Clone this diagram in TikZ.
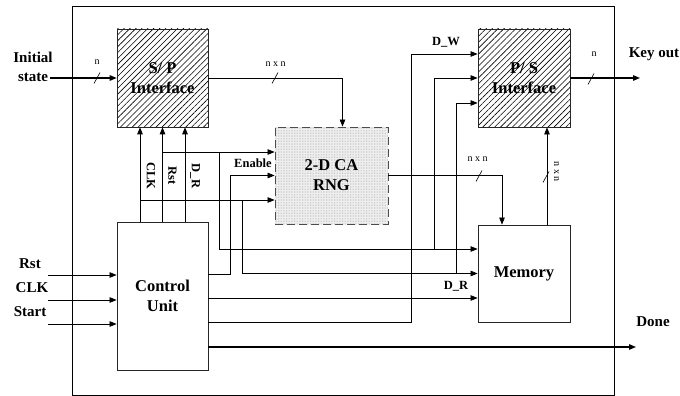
\documentclass[tikz,border=0pt]{standalone}
\usepackage{fontspec}
\setmainfont{Liberation Serif}
\usepackage{tikz}
\usetikzlibrary{arrows.meta,positioning,calc,patterns.meta}

\newcommand{\busslash}[1]{\draw[line width=0.6pt] ($(#1)+(-3,5.5)$) -- ($(#1)+(3,-5.5)$);}

\begin{document}
\begin{tikzpicture}[
  x=1pt, y=-1pt,
  block/.style={rectangle, draw=black!85, line width=0.8pt, align=center, inner sep=0pt, font=\fontsize{16.5}{20}\selectfont\bfseries},
  hatched/.style={block, pattern={Lines[angle=45,distance=4.2pt,line width=0.6pt]}},
  rngbox/.style={block, draw=black!70, dash pattern=on 8pt off 4pt, preaction={fill=gray!10}, pattern={Dots[distance=1.6pt,radius=0.35pt]}, pattern color=gray!70},
  arrow/.style={-{Triangle[length=7pt,width=5.5pt]}, line width=0.7pt},
  heavy/.style={arrow, line width=1.2pt},
  lbl/.style={inner sep=0pt, align=center, font=\fontsize{15}{19}\selectfont\bfseries},
  sig/.style={inner sep=0pt, font=\fontsize{12.5}{15}\selectfont\bfseries},
  bus/.style={inner sep=0pt, font=\fontsize{10}{12}\selectfont}
]
  \useasboundingbox (0,0) rectangle (680,396);
  \node[draw, line width=0.7pt, minimum width=542, minimum height=389, inner sep=0pt] (chip) at (343,200.5) {};

  % blocks
  \node[hatched, minimum width=91, minimum height=98] (sp) at (162.5,78) {S/ P\\Interface};
  \node[hatched, minimum width=92, minimum height=98] (ps) at (524,78) {P/ S\\Interface};
  \node[rngbox, minimum width=113, minimum height=97] (rng) at (331.5,175.5) {2-D CA\\RNG};
  \node[block, minimum width=91, minimum height=148] (cu) at (162.5,296) {Control\\Unit};
  \node[block, minimum width=92, minimum height=97] (mem) at (524,273.5) {Memory};

  % outer inputs and outputs
  \coordinate (instate) at (50,78);
  \coordinate (keyend) at (640,78);
  \coordinate (inrst) at (48,275);
  \coordinate (inclk) at (48,300);
  \coordinate (instart) at (48,324);
  \coordinate (doneend) at (636,347);

  \draw[heavy] (instate) -- (sp.west);
  \draw[heavy] (ps.east) -- (keyend);
  \draw[arrow] (inrst) -- (inrst -| cu.west);
  \draw[arrow] (inclk) -- (inclk -| cu.west);
  \draw[arrow] (instart) -- (instart -| cu.west);
  \draw[heavy] (cu.east |- doneend) -- (doneend);

  \node[lbl] (lblstate) at (33,67) {Initial\\state};
  \node[lbl] (lblkey) at (654,54) {Key out};
  \node[lbl] (lblrst) at (30,264) {Rst};
  \node[lbl] (lblclk) at (32,288) {CLK};
  \node[lbl] (lblstart) at (30,312) {Start};
  \node[lbl] (lbldone) at (653,322) {Done};

  % data paths
  \draw[arrow] (sp.east) -| ([xshift=11pt]rng.north);
  \draw[arrow] (rng.east) -| ([xshift=-22pt]mem.north);
  \draw[arrow] ([xshift=23pt]mem.north) -- ([xshift=23pt]ps.south);

  \busslash{97,78}
  \busslash{275,78}
  \busslash{479,176}
  \busslash{546,177}
  \busslash{591,79}
  \node[bus] (bw1) at (97,62.5) {n};
  \node[bus] (bw2) at (275.5,64) {n x n};
  \node[bus] (bw3) at (477.5,159) {n x n};
  \node[bus, rotate=-90] (bw4) at (556.5,171.5) {n x n};
  \node[bus] (bw5) at (594,54.5) {n};

  % control lines
  \draw[arrow] ([xshift=-22.5pt]cu.north) -- ([xshift=-22.5pt]sp.south);
  \draw[arrow] (cu.north) -- (sp.south);
  \draw[arrow] ([xshift=22.5pt]cu.north) -- ([xshift=22.5pt]sp.south);

  \coordinate (clkb) at (140,200);
  \coordinate (clkm) at (242,200);
  \coordinate (rstb) at (162,152);
  \coordinate (rstm) at (219,152);
  \coordinate (enb) at (230,274);
  \coordinate (dw) at (411,322);
  \coordinate (psb) at (434,249);
  \coordinate (psc) at (456,274);

  \draw[arrow] (clkb) -- (clkb -| rng.west);
  \draw[arrow] (clkm) |- (mem.west);
  \draw[arrow] (rstb) -- (rstb -| rng.west);
  \draw[arrow] (rstm) |- ([yshift=24.5pt]mem.west);
  \draw[arrow] (cu.east |- enb) -- (enb) |- (rng.west);
  \draw[arrow] ([yshift=-24.5pt]mem.west -| cu.east) -- ([yshift=-24.5pt]mem.west);
  \draw[arrow] (cu.east |- dw) -- (dw) |- ([yshift=24pt]ps.west);
  \draw[arrow] (psb) |- (ps.west);
  \draw[arrow] (psc) |- ([yshift=-25pt]ps.west);

  \node[sig, rotate=-90] (lclk) at (151,176) {CLK};
  \node[sig, rotate=-90] (lrst) at (172.5,176) {Rst};
  \node[sig, rotate=-90] (ldr) at (195,176) {D\_R};
  \node[sig] (lenable) at (253,163.5) {Enable};
  \node[sig] (ldw) at (446,42) {D\_W};
  \node[sig] (ldrm) at (456,286) {D\_R};
\end{tikzpicture}
\end{document}
